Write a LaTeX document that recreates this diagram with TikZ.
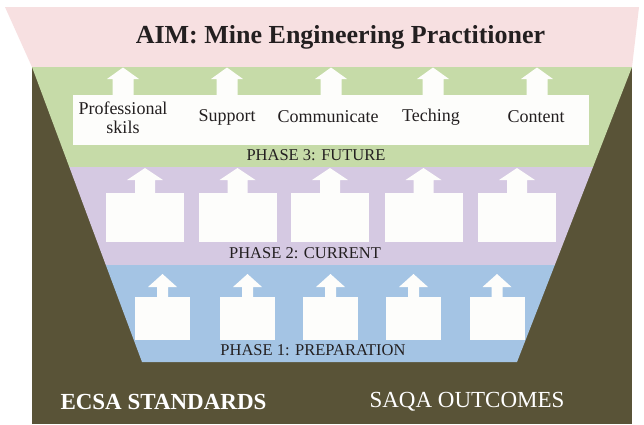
\documentclass[tikz,border=0pt]{standalone}
\usepackage{fontspec}
\setmainfont{Liberation Serif}
\definecolor{pinkc}{RGB}{247,224,225}
\definecolor{greenc}{RGB}{198,219,168}
\definecolor{purplec}{RGB}{213,201,226}
\definecolor{bluec}{RGB}{164,196,228}
\definecolor{darkc}{RGB}{89,83,55}
\definecolor{arrowc}{RGB}{253,253,251}
\definecolor{textc}{RGB}{35,31,32}
\newcommand{\upblk}[6]{%
  \fill[arrowc] (#1,#2) -- (#1+#5,#3) -- (#1+#6,#3) -- (#1+#6,#4) -- (#1-#6,#4) -- (#1-#6,#3) -- (#1-#5,#3) -- cycle;}
\tikzset{
  wbox/.style={fill=arrowc, draw=none, inner sep=0pt},
  lbl/.style={text=textc, inner sep=0pt, font=\fontsize{18}{19}\selectfont, align=center},
  phase/.style={text=textc, inner sep=0pt, font=\fontsize{16.5}{18}\selectfont},
  foot/.style={text=white, inner sep=0pt, font=\fontsize{23}{26}\selectfont},
}
\begin{document}
\begin{tikzpicture}[x=1pt,y=-1pt]
\useasboundingbox (0,0) rectangle (644,424);
\fill[white] (0,0) rectangle (644,424);
% pink top
\fill[pinkc] (5,7) -- (639,7) -- (632,67) -- (32,67) -- cycle;
% dark background
\fill[darkc] (32,67) rectangle (632,424);
% funnel bands
\fill[greenc] (32,67) -- (632,67) -- (593,167) -- (69.3,167) -- cycle;
\fill[purplec] (69.3,167) -- (593,167) -- (554.8,265) -- (105.8,265) -- cycle;
\fill[bluec] (105.8,265) -- (554.8,265) -- (517,362) -- (142,362) -- cycle;

% title
\node[text=textc, inner sep=0pt, font=\fontsize{26}{30}\selectfont\bfseries] (title) at (340.5,37) {AIM: Mine Engineering Practitioner};

% phase 3 : top arrows and white box
\foreach \cx in {123,227,331,433,537} {\upblk{\cx}{67.5}{79}{96}{16}{10.5}}
\node[wbox, minimum width=516, minimum height=50] (topbox) at (331,120) {};
\node[lbl] (l1) at (123,117.5) {Professional\\skils};
\node[lbl] (l2) at (227,117) {Support};
\node[lbl] (l3) at (328,117) {Communicate};
\node[lbl] (l4) at (431,117) {Teching};
\node[lbl] (l5) at (536,117) {Content};
\node[phase] (ph3) at (316,155) {PHASE 3: FUTURE};

% phase 2
\foreach \cx [count=\i] in {145,237.5,330,423.5,517} {
  \upblk{\cx}{168}{180}{194}{18}{10}
  \node[wbox, minimum width=78, minimum height=49] (m\i) at (\cx,217.5) {};
}
\node[phase] (ph2) at (305,253) {PHASE 2: CURRENT};

% phase 1
\foreach \cx [count=\i] in {162.5,247.5,330.5,413.5,497} {
  \upblk{\cx}{274}{287}{298}{14.5}{5.5}
  \node[wbox, minimum width=55, minimum height=43] (b\i) at (\cx,318.5) {};
}
\node[phase] (ph1) at (313,350) {PHASE 1: PREPARATION};

% footer
\node[foot, font=\fontsize{23}{26}\selectfont\bfseries] (ecsa) at (163.5,402) {ECSA STANDARDS};
\node[foot] (saqa) at (467,402) {SAQA OUTCOMES};
\end{tikzpicture}
\end{document}
